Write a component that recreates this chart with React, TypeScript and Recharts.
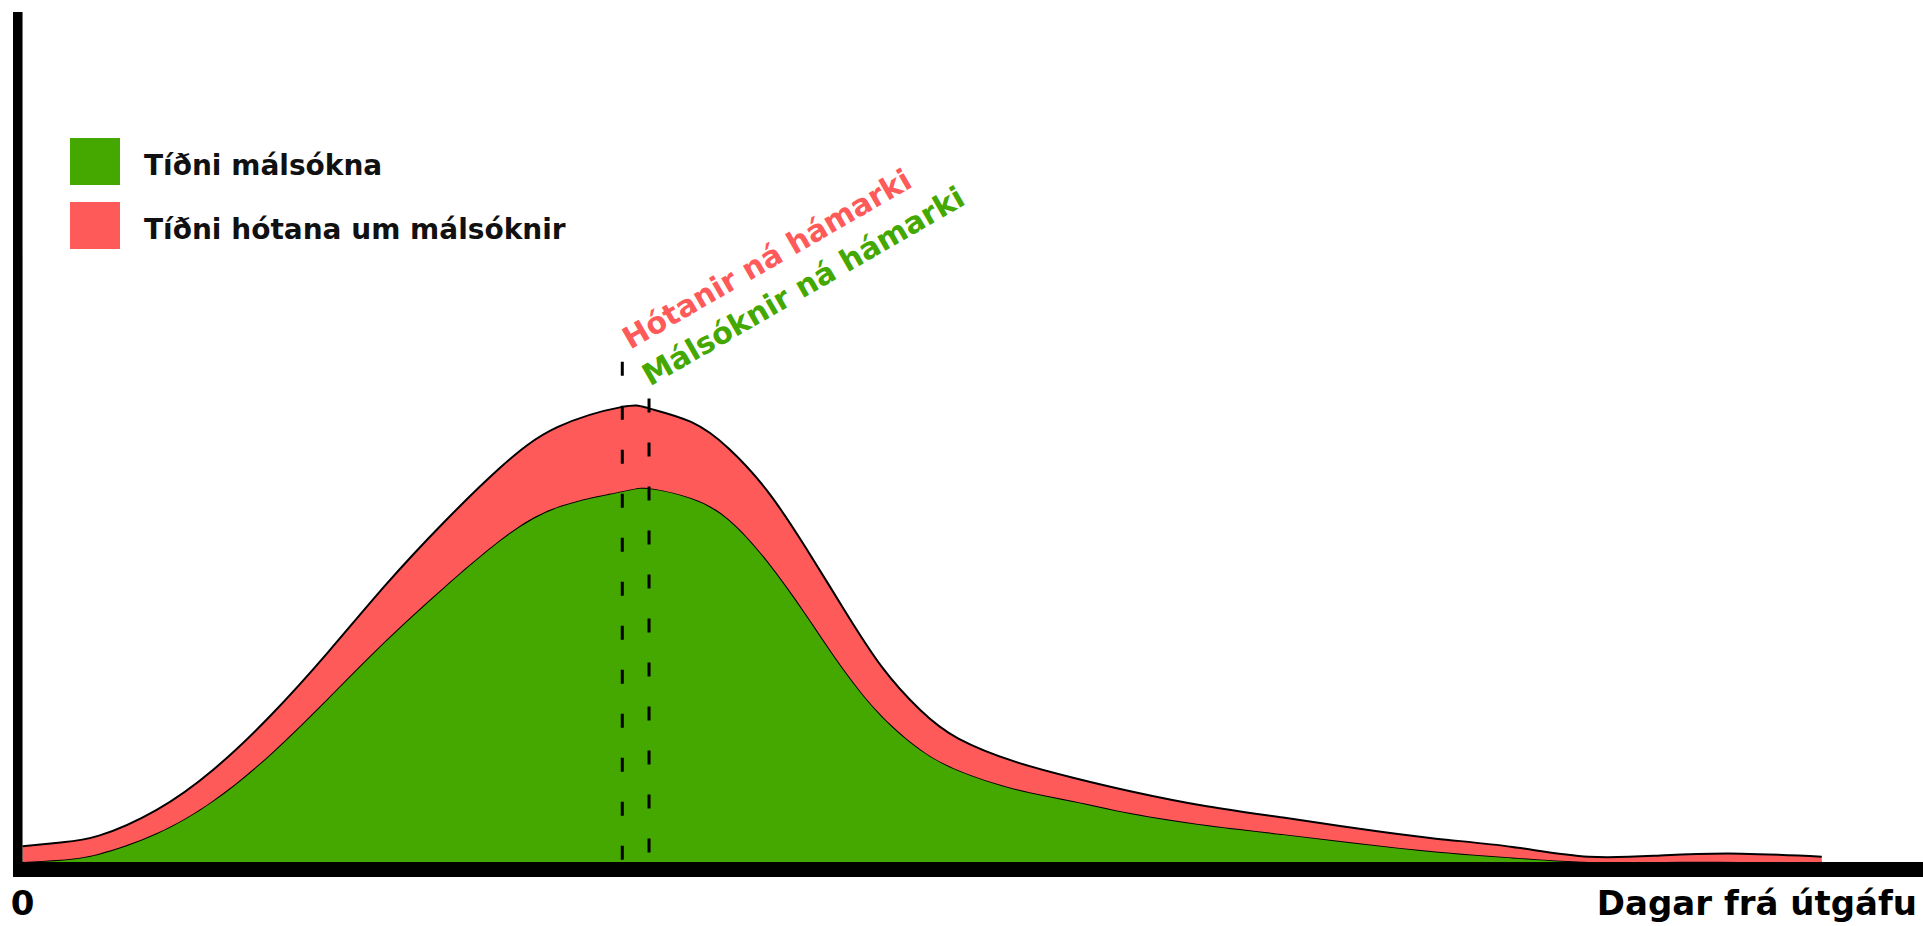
import React from 'react';
import { AreaChart, Area, XAxis, YAxis, ReferenceArea, ReferenceLine, Legend } from 'recharts';

// days since publication
const DAYS = [
  0, 2, 4, 7, 10, 13, 16, 19, 22, 25, 28, 31.4, 32.8, 35, 37, 39, 41, 43, 45, 47,
  49, 52, 55, 58, 62, 66, 70, 74, 78, 82, 86, 90, 94.2,
];

// frequency of lawsuits (bottom layer)
const LAWSUITS = [
  0, 0.3, 1.1, 3.8, 8.2, 14.4, 21.8, 29.4, 36.4, 42.8, 47.2, 49.3, 49.7, 48.4, 45.5, 40.0, 33.0, 25.6, 19.4, 15.0,
  12.2, 9.7, 8.1, 6.5, 4.9, 3.7, 2.5, 1.4, 0.6, 0, 0, 0, 0,
];

// frequency of lawsuit threats (stacked on top)
const THREATS = [
  2.1, 2.3, 2.4, 3.1, 4.1, 5.1, 6.1, 7.4, 8.6, 9.6, 10.6, 11.2, 10.6, 10.1, 9.4, 9.3, 8.8, 8.0, 6.5, 5.2,
  4.2, 3.6, 3.1, 2.9, 2.5, 2.2, 1.9, 1.7, 1.4, 0.7, 0.9, 1.1, 0.7,
];

const THREAT_PEAK_DAY = 31.4;
const LAWSUIT_PEAK_DAY = 32.8;

const SERIES = [
  { key: 'lawsuits', name: 'Tíðni málsókna', color: '#44a800' },
  { key: 'threats', name: 'Tíðni hótana um málsóknir', color: '#ff5a5a' },
];

const data = DAYS.map((day, i) => ({ day, lawsuits: LAWSUITS[i], threats: THREATS[i] }));

const FONT = '"DejaVu Sans", sans-serif';

const peakLabel = (text: string, color: string, dx: number) => (props: any) => {
  const vb = props.viewBox;
  if (!vb) return null;
  const x = vb.x + dx;
  const y = vb.y - 12;
  return (
    <text x={x} y={y} transform={`rotate(-30 ${x} ${y})`} fill={color}
      fontFamily={FONT} fontWeight={700} fontSize={30}>
      {text}
    </text>
  );
};

const axisTitle = (props: any) => {
  const vb = props.viewBox;
  if (!vb) return null;
  return (
    <text x={vb.x + vb.width - 6} y={vb.y + 38} textAnchor="end" fill="#000"
      fontFamily={FONT} fontWeight={700} fontSize={34}>
      Dagar frá útgáfu
    </text>
  );
};

const renderLegend = () => (
  <div style={{ fontFamily: FONT, fontWeight: 700, fontSize: 28, color: '#111' }}>
    {SERIES.map((s) => (
      <div key={s.key} style={{ display: 'flex', alignItems: 'center', height: 47, marginBottom: 17 }}>
        <span style={{ width: 50, height: 47, background: s.color, marginRight: 24, display: 'inline-block' }} />
        <span style={{ position: 'relative', top: 4, whiteSpace: 'nowrap' }}>{s.name}</span>
      </div>
    ))}
  </div>
);

export default function App() {
  return (
    <div style={{ position: 'absolute', left: 0, top: 0, width: 1923, height: 926, background: '#fff' }}>
      <style>{'body{margin:0;overflow:hidden}'}</style>
      <AreaChart width={1923} height={926} data={data} margin={{ top: 12, right: 0, bottom: 0, left: 13 }}>
        <XAxis
          type="number"
          dataKey="day"
          domain={[-0.5, 99.5]}
          allowDataOverflow
          ticks={[0]}
          interval={0}
          height={49}
          axisLine={false}
          tickLine={false}
          tickSize={0}
          tickMargin={0}
          tick={({ x, y, payload }: any) => (
            <text x={x} y={y + 38} textAnchor="middle" fill="#000" fontFamily={FONT} fontWeight={700} fontSize={34}>
              {payload.value}
            </text>
          )}
          label={{ content: axisTitle }}
        />
        <YAxis type="number" domain={[-2, 113]} allowDataOverflow hide />
        <Legend
          layout="vertical"
          align="center"
          verticalAlign="middle"
          wrapperStyle={{ left: 70, top: 138, width: 'auto', height: 'auto' }}
          content={renderLegend}
        />
        {SERIES.map((s) => (
          <Area
            key={s.key}
            type="natural"
            dataKey={s.key}
            name={s.name}
            stackId="a"
            stroke="#000"
            strokeWidth={2}
            fill={s.color}
            fillOpacity={1}
            dot={false}
            activeDot={false}
            isAnimationActive={false}
          />
        ))}
        <ReferenceLine
          segment={[{ x: THREAT_PEAK_DAY, y: 66.5 }, { x: THREAT_PEAK_DAY, y: 0 }]}
          stroke="#000"
          strokeWidth={3}
          strokeDasharray="14 30"
          label={{ content: peakLabel('Hótanir ná hámarki', '#ff5a5a', 8) }}
        />
        <ReferenceLine
          segment={[{ x: LAWSUIT_PEAK_DAY, y: 61.6 }, { x: LAWSUIT_PEAK_DAY, y: 0 }]}
          stroke="#000"
          strokeWidth={3}
          strokeDasharray="14 30"
          label={{ content: peakLabel('Málsóknir ná hámarki', '#44a800', 1) }}
        />
        <ReferenceArea x1={-0.5} x2={99.5} y1={-2} y2={0} fill="#000" fillOpacity={1} stroke="none" />
        <ReferenceArea x1={-0.5} x2={0} y1={-2} y2={113} fill="#000" fillOpacity={1} stroke="none" />
      </AreaChart>
    </div>
  );
}
